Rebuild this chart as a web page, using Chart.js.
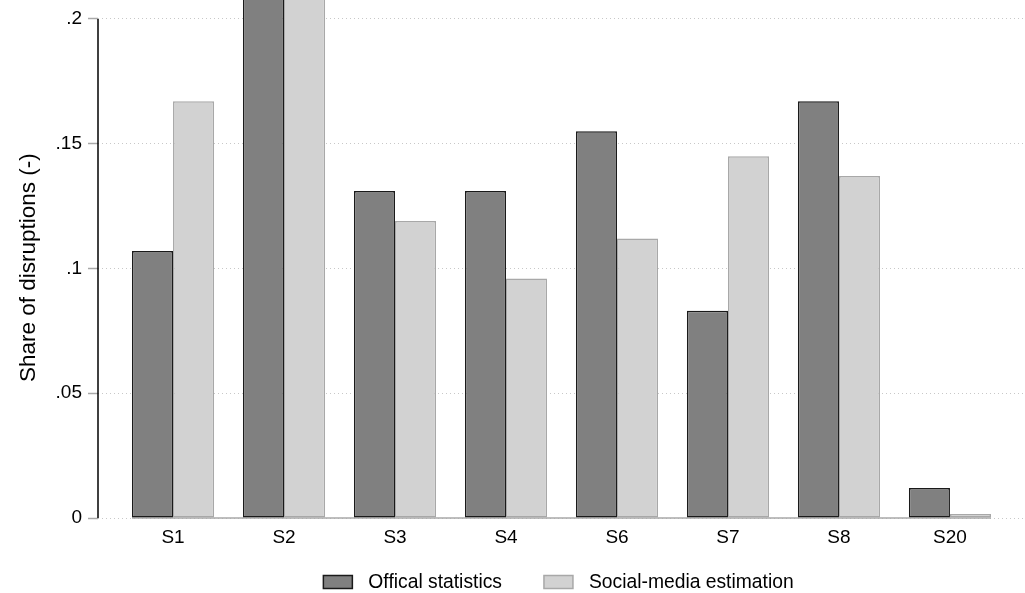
<!DOCTYPE html>
<html>
<head>
<meta charset="utf-8">
<script src="https://cdn.jsdelivr.net/npm/chart.js@4"></script>
<style>
  html, body { margin: 0; padding: 0; background: #fff; }
  #wrap { width: 1025px; height: 593px; }
</style>
</head>
<body>
<div id="wrap"><canvas id="disruptionChart"></canvas></div>
<script>
// Share of disruptions per category
const categories = ['S1', 'S2', 'S3', 'S4', 'S6', 'S7', 'S8', 'S20'];
const officialShare = [0.107, 0.214, 0.131, 0.131, 0.155, 0.083, 0.167, 0.012];
const socialShare = [0.167, 0.221, 0.119, 0.096, 0.112, 0.145, 0.137, 0.0016];
const yTicks = [0, 0.05, 0.1, 0.15, 0.2];
const yTickLabels = ['0', '.05', '.1', '.15', '.2'];

const font = "'Liberation Sans', Arial, Helvetica, sans-serif";

function toPoints(values) {
    return values.map(function(v, i) { return { x: i, y: v }; });
}

// y axis line from 0 to the top tick, plus a grey base line under the bars
const axisLines = {
    id: 'axisLines',
    beforeDatasetsDraw: function(chart) {
        const x = chart.scales.x;
        const y = chart.scales.y;
        const ctx = chart.ctx;
        ctx.save();
        ctx.strokeStyle = '#a8a8a8';
        ctx.lineWidth = 1.5;
        ctx.beginPath();
        ctx.moveTo(x.getPixelForValue(-0.37), y.getPixelForValue(0));
        ctx.lineTo(x.getPixelForValue(categories.length - 1 + 0.37), y.getPixelForValue(0));
        ctx.stroke();
        ctx.restore();
    },
    afterDraw: function(chart) {
        const y = chart.scales.y;
        const ctx = chart.ctx;
        const left = chart.chartArea.left;
        ctx.save();
        ctx.strokeStyle = '#000';
        ctx.lineWidth = 1.5;
        ctx.beginPath();
        ctx.moveTo(left, y.getPixelForValue(yTicks[yTicks.length - 1]));
        ctx.lineTo(left, y.getPixelForValue(0));
        ctx.stroke();
        ctx.restore();
    }
};

// legend row under the axis labels
const bottomLegend = {
    id: 'bottomLegend',
    afterDraw: function(chart) {
        const ctx = chart.ctx;
        const area = chart.chartArea;
        const boxW = 29, boxH = 13, textGap = 16, itemGap = 42;
        ctx.save();
        ctx.font = '19.3px ' + font;
        const items = chart.data.datasets.map(function(ds) {
            return { ds: ds, w: ctx.measureText(ds.label).width };
        });
        let total = 0;
        items.forEach(function(it, i) {
            total += boxW + textGap + it.w + (i > 0 ? itemGap : 0);
        });
        let x = (area.left + area.right) / 2 - 3 - total / 2;
        const midY = 582;
        items.forEach(function(it) {
            ctx.fillStyle = it.ds.backgroundColor;
            ctx.fillRect(x, midY - boxH / 2, boxW, boxH);
            ctx.strokeStyle = it.ds.borderColor;
            ctx.lineWidth = 1.5;
            ctx.strokeRect(x, midY - boxH / 2, boxW, boxH);
            ctx.fillStyle = '#000';
            ctx.textBaseline = 'middle';
            ctx.textAlign = 'left';
            ctx.fillText(it.ds.label, x + boxW + textGap, midY + 1);
            x += boxW + textGap + it.w + itemGap;
        });
        ctx.restore();
    }
};

const ctx = document.getElementById('disruptionChart').getContext('2d');
const disruptionChart = new Chart(ctx, {
    type: 'bar',
    data: {
        datasets: [{
            label: 'Offical statistics',
            data: toPoints(officialShare),
            backgroundColor: '#808080',
            borderColor: '#1a1a1a',
            borderWidth: 1.5,
            borderSkipped: false,
            clip: false
        }, {
            label: 'Social-media estimation',
            data: toPoints(socialShare),
            backgroundColor: '#d2d2d2',
            borderColor: '#a8a8a8',
            borderWidth: 1.5,
            borderSkipped: false,
            clip: false
        }]
    },
    options: {
        responsive: true,
        maintainAspectRatio: false,
        animation: false,
        categoryPercentage: 0.74,
        barPercentage: 1.0,
        layout: { padding: { top: 0, right: 0, bottom: 45, left: 0 } },
        plugins: {
            tooltip: { enabled: false },
            legend: { display: false }
        },
        scales: {
            x: {
                type: 'linear',
                offset: false,
                min: -0.676,
                max: categories.length - 1 + 0.676,
                afterBuildTicks: function(scale) {
                    scale.ticks = categories.map(function(c, i) { return { value: i }; });
                },
                afterFit: function(scale) { scale.height = 30; },
                ticks: {
                    autoSkip: false,
                    maxRotation: 0,
                    padding: 0,
                    color: '#000',
                    font: { family: font, size: 19 },
                    callback: function(value) { return categories[value]; }
                },
                grid: { display: false },
                border: { display: false }
            },
            y: {
                min: 0,
                max: 0.2006,
                afterBuildTicks: function(scale) {
                    scale.ticks = yTicks.map(function(v) { return { value: v }; });
                },
                afterFit: function(scale) { scale.width = 98; },
                ticks: {
                    padding: 6,
                    color: '#000',
                    font: { family: font, size: 19 },
                    callback: function(value) {
                        const i = yTicks.indexOf(value);
                        return i >= 0 ? yTickLabels[i] : '';
                    }
                },
                grid: {
                    color: '#c8c8c8',
                    lineWidth: 1,
                    tickLength: 10,
                    tickColor: '#a8a8a8',
                    tickWidth: 1.5,
                    tickBorderDash: []
                },
                border: { display: false, dash: [1, 3] },
                title: {
                    display: true,
                    text: 'Share of disruptions (-)',
                    color: '#000',
                    padding: { top: 15, bottom: 0 },
                    font: { family: font, size: 22.5 }
                }
            }
        }
    },
    plugins: [axisLines, bottomLegend]
});
</script>
</body>
</html>
